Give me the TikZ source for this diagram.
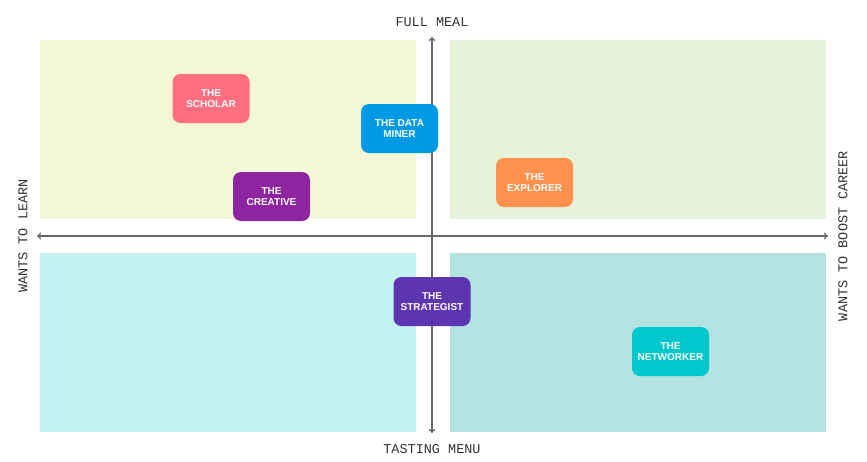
\documentclass[tikz,border=0pt]{standalone}
\usepackage{fontspec}
\setmainfont{Liberation Sans}
\newfontfamily\axisfont{Liberation Mono}
\usetikzlibrary{arrows.meta}

\definecolor{quadTL}{HTML}{F3F7D6}
\definecolor{quadTR}{HTML}{E4F3DA}
\definecolor{quadBL}{HTML}{C4F2F2}
\definecolor{quadBR}{HTML}{B3E3E0}
\definecolor{axisgray}{HTML}{666666}
\definecolor{labelgray}{HTML}{333333}
\definecolor{scholar}{HTML}{FF6F80}
\definecolor{dataminer}{HTML}{0099E6}
\definecolor{creative}{HTML}{8E24A0}
\definecolor{explorer}{HTML}{FF914D}
\definecolor{strategist}{HTML}{5E35B1}
\definecolor{networker}{HTML}{00C8CC}

\tikzset{
  persona/.style={rounded corners=8pt, minimum width=77pt, minimum height=49pt,
                  inner sep=0pt, align=center, text=white,
                  font=\fontsize{10}{11.5}\selectfont\bfseries},
  axisline/.style={draw=axisgray, line width=1.3pt, {To[length=4pt,width=7pt]}-{To[length=4pt,width=7pt]}},
  axislabel/.style={font=\axisfont\fontsize{13.5}{16}\selectfont, text=labelgray, inner sep=0pt}
}

\begin{document}
\begin{tikzpicture}[x=1pt,y=-1pt]
\useasboundingbox (0,0) rectangle (867,461);

% Quadrants
\fill[quadTL] (40,40) rectangle (416,219);
\fill[quadTR] (450,40) rectangle (826,219);
\fill[quadBL] (40,253) rectangle (416,432);
\fill[quadBR] (450,253) rectangle (826,432);

% Axes
\coordinate (top) at (432,37);
\coordinate (bottom) at (432,433);
\coordinate (left) at (37,236);
\coordinate (right) at (828,236);
\draw[axisline] (bottom) -- (top);
\draw[axisline] (left) -- (right);

% Axis labels
\node[axislabel] (fullmeal) at (432,22) {FULL MEAL};
\node[axislabel] (tasting) at (432,449) {TASTING MENU};
\node[axislabel, rotate=90] (learn) at (23,236) {WANTS TO LEARN};
\node[axislabel, rotate=90] (career) at (843,236) {WANTS TO BOOST CAREER};

% Personas
\foreach \x/\y/\col/\name/\txt in {211/98.5/scholar/scholar/{THE\\SCHOLAR},
    399.5/128.5/dataminer/dataminer/{THE DATA\\MINER},
    271.5/196.5/creative/creative/{THE\\CREATIVE},
    534.5/182.5/explorer/explorer/{THE\\EXPLORER},
    432/301.5/strategist/strategist/{THE\\STRATEGIST},
    670.5/351.5/networker/networker/{THE\\NETWORKER}} {
  \node[persona, fill=\col] (\name) at (\x,\y) {\txt};
}
\end{tikzpicture}
\end{document}
